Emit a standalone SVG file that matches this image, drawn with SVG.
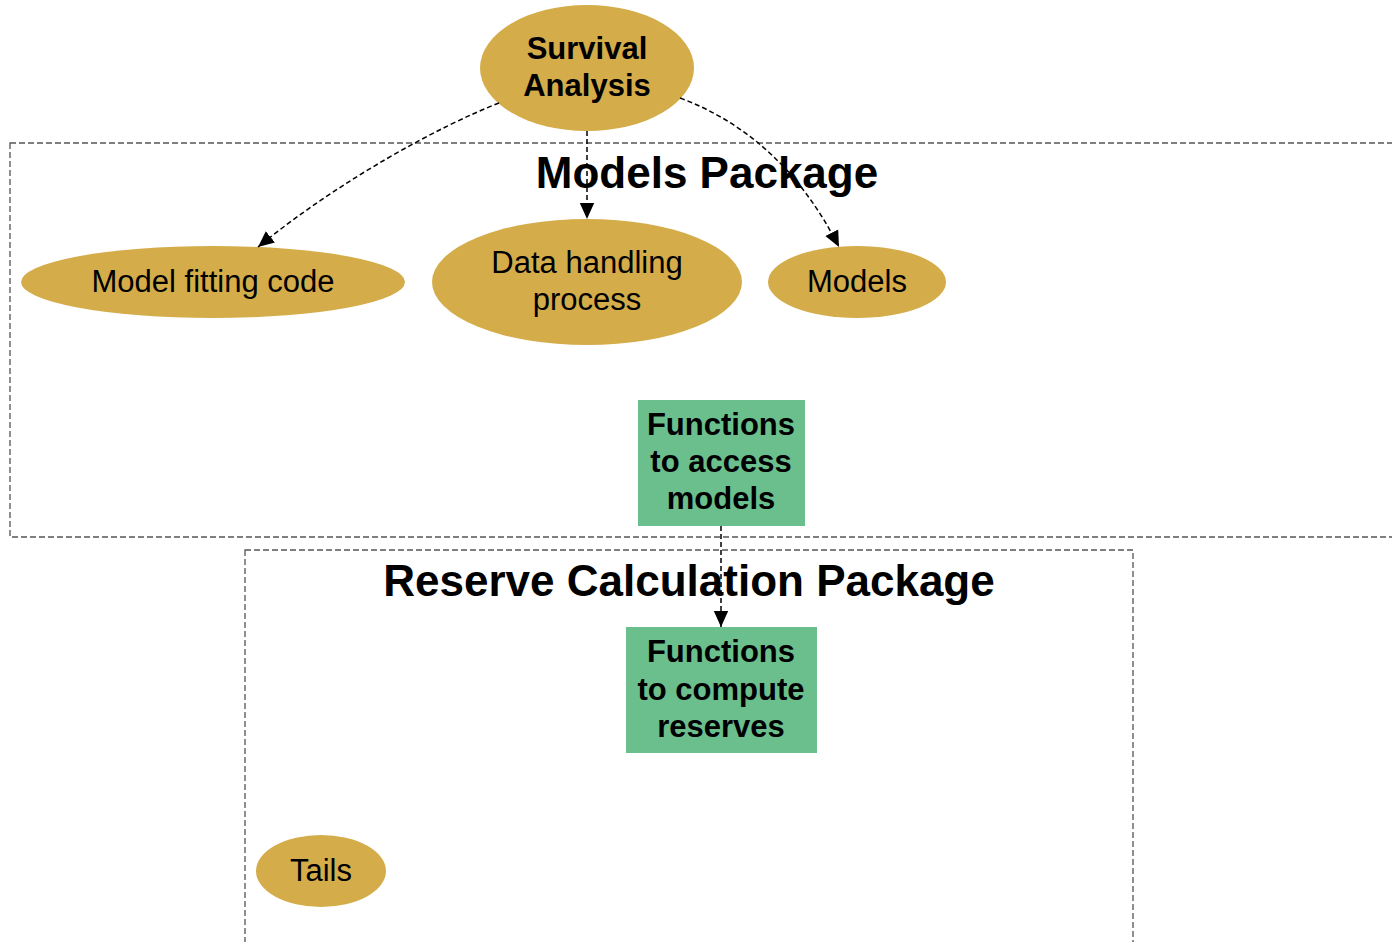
<svg xmlns="http://www.w3.org/2000/svg" width="1392" height="942" viewBox="0 0 1392 942">
<style>
.cluster{fill:none;stroke:#555;stroke-width:1.3;stroke-dasharray:6,3}
.title{font-family:"Liberation Sans",Arial,sans-serif;font-weight:bold;font-size:44px;fill:#000;text-anchor:middle}
.ell{fill:#D4AC4A;stroke:none}
.box{fill:#6ABF8D;stroke:none}
.t{font-family:"Liberation Sans",Arial,sans-serif;font-size:31px;fill:#000;text-anchor:middle}
.b{font-weight:bold}
.edge{fill:none;stroke:#000;stroke-width:1.5;stroke-dasharray:5,3}
</style>
<defs>
<marker id="arr" viewBox="0 0 10 10" refX="10" refY="5" markerWidth="16" markerHeight="16" markerUnits="userSpaceOnUse" orient="auto">
<path d="M0,0.5 L10,5 L0,9.5 z" fill="#000"/>
</marker>
</defs>
<rect fill="#fff" x="0" y="0" width="1392" height="942"/>
<g id="cluster-models">
<rect class="cluster" x="10" y="143" width="1400" height="394"/>
<text class="title" x="707" y="188">Models Package</text>
</g>
<g id="cluster-reserve">
<rect class="cluster" x="245" y="550" width="888" height="420"/>
<text class="title" x="689" y="596">Reserve Calculation Package</text>
</g>
<g id="survival">
<ellipse class="ell" cx="587" cy="68" rx="107" ry="63"/>
<text class="t b" x="587" y="59">Survival</text>
<text class="t b" x="587" y="96">Analysis</text>
</g>
<g id="model-fitting">
<ellipse class="ell" cx="213" cy="282" rx="192" ry="36"/>
<text class="t" x="213" y="292">Model fitting code</text>
</g>
<g id="data-handling">
<ellipse class="ell" cx="587" cy="282" rx="155" ry="63"/>
<text class="t" x="587" y="273">Data handling</text>
<text class="t" x="587" y="310">process</text>
</g>
<g id="models">
<ellipse class="ell" cx="857" cy="282" rx="89" ry="36"/>
<text class="t" x="857" y="292">Models</text>
</g>
<g id="functions-access">
<rect class="box" x="638" y="400" width="167" height="126"/>
<text class="t b" x="721" y="435">Functions</text>
<text class="t b" x="721" y="472">to access</text>
<text class="t b" x="721" y="509">models</text>
</g>
<g id="functions-compute">
<rect class="box" x="626" y="627" width="191" height="126"/>
<text class="t b" x="721" y="662">Functions</text>
<text class="t b" x="721" y="700">to compute</text>
<text class="t b" x="721" y="737">reserves</text>
</g>
<g id="tails">
<ellipse class="ell" cx="321" cy="871" rx="65" ry="36"/>
<text class="t" x="321" y="881">Tails</text>
</g>
<g id="connectors">
<path class="edge" d="M499,103 C440,126 340,180 258,247" marker-end="url(#arr)"/>
<path class="edge" d="M587,131 L587,219" marker-end="url(#arr)"/>
<path class="edge" d="M680,98 C745,122 800,170 839,247" marker-end="url(#arr)"/>
<path class="edge" d="M721,526 L721,627" marker-end="url(#arr)"/>
</g>
</svg>
